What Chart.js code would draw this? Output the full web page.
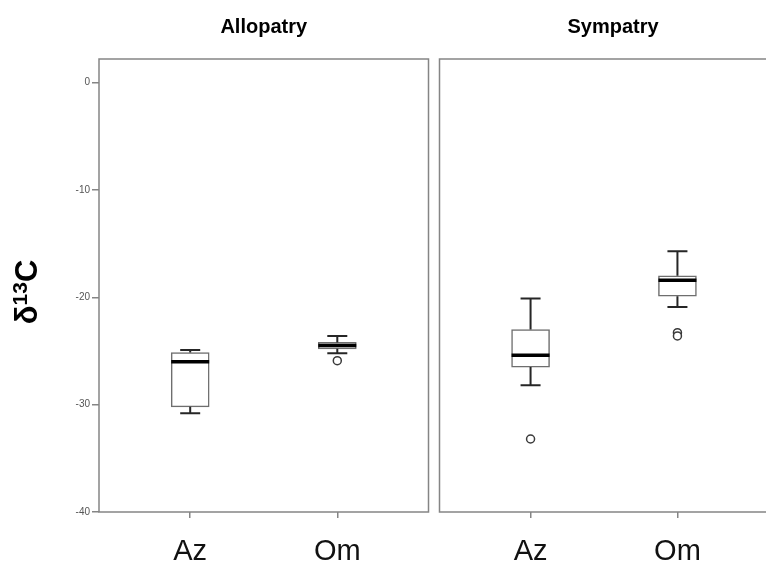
<!DOCTYPE html>
<html>
<head>
<meta charset="utf-8">
<script src="https://cdn.jsdelivr.net/npm/chart.js@4.4.1/dist/chart.umd.min.js"></script>
<style>
  html, body { margin: 0; padding: 0; background: #fff; width: 766px; height: 564px; overflow: hidden; }
  #wrap { position: relative; width: 766px; height: 564px; overflow: hidden; }
  .panel { position: absolute; top: 0; }
</style>
</head>
<body>
<div id="wrap">
  <div class="panel" style="left:0px"><canvas id="c1" width="434" height="564"></canvas></div>
  <div class="panel" style="left:434px"><canvas id="c2" width="340" height="564"></canvas></div>
</div>
<script>
// ---- data ----
const categories = ['Az', 'Om'];
const panelTitles = ['Allopatry', 'Sympatry'];
const yTicks = [-40, -30, -20, -10, 0];
const yTitleParts = ['δ', '13', 'C'];

// Allopatry
const alloWhiskerLow  = [-30.8, -25.2];
const alloQ1          = [-30.2, -24.8];
const alloMedian      = [-26.0, -24.5];
const alloQ3          = [-25.15, -24.2];
const alloWhiskerHigh = [-24.9, -23.6];
const alloOutliers    = [[], [-25.9]];

// Sympatry
const symWhiskerLow  = [-28.2, -20.9];
const symQ1          = [-26.5, -19.9];
const symMedian      = [-25.4, -18.4];
const symQ3          = [-23.0, -18.0];
const symWhiskerHigh = [-20.1, -15.7];
const symOutliers    = [[-33.2], [-23.3, -23.6]];

const Y_MIN = -40, Y_MAX = 2.2;
const X_MIN = -0.62, X_MAX = 1.62;

const FRAME = '#858585';
const FONT = 'Liberation Sans, Arial, sans-serif';

const framePlugin = {
  id: 'frame',
  beforeDatasetsDraw(chart) {
    const a = chart.chartArea, ctx = chart.ctx;
    ctx.save();
    ctx.strokeStyle = FRAME;
    ctx.lineWidth = 1.5;
    ctx.strokeRect(a.left, a.top, a.right - a.left, a.bottom - a.top);
    ctx.restore();
  }
};

const textPlugin = {
  id: 'texts',
  afterDraw(chart, args, opts) {
    const ctx = chart.ctx, a = chart.chartArea;
    ctx.save();
    ctx.fillStyle = '#000';
    ctx.font = 'bold 20px ' + FONT;
    ctx.textAlign = 'center';
    ctx.textBaseline = 'alphabetic';
    ctx.fillText(opts.title, (a.left + a.right) / 2 + opts.titleShift, 33);
    if (opts.yTitle) {
      ctx.translate(opts.yTitleX, opts.yTitleY);
      ctx.rotate(-Math.PI / 2);
      const big = 'bold 31px ' + FONT, small = 'bold 21px ' + FONT;
      ctx.font = big; const w0 = ctx.measureText(yTitleParts[0]).width;
      ctx.font = small; const w1 = ctx.measureText(yTitleParts[1]).width;
      ctx.font = big; const w2 = ctx.measureText(yTitleParts[2]).width;
      let x = -(w0 + w1 + w2) / 2;
      ctx.textAlign = 'left';
      ctx.textBaseline = 'middle';
      ctx.font = big; ctx.fillText(yTitleParts[0], x, 0); x += w0;
      ctx.font = small; ctx.fillText(yTitleParts[1], x, -7); x += w1;
      ctx.font = big; ctx.fillText(yTitleParts[2], x, 0);
    }
    ctx.restore();
  }
};

const whiskerPlugin = {
  id: 'whiskers',
  afterDatasetsDraw(chart, args, opts) {
    const ctx = chart.ctx, xs = chart.scales.x, ys = chart.scales.y;
    const s = opts.stats;
    ctx.save();
    for (let i = 0; i < categories.length; i++) {
      const cx = xs.getPixelForValue(i);
      const half = 19, cap = 10;
      const yl = ys.getPixelForValue(s.low[i]);
      const y1 = ys.getPixelForValue(s.q1[i]);
      const ym = ys.getPixelForValue(s.med[i]);
      const y3 = ys.getPixelForValue(s.q3[i]);
      const yh = ys.getPixelForValue(s.high[i]);
      ctx.strokeStyle = '#262626';
      ctx.lineWidth = 2;
      ctx.beginPath();
      ctx.moveTo(cx, y1); ctx.lineTo(cx, yl);
      ctx.moveTo(cx - cap, yl); ctx.lineTo(cx + cap, yl);
      ctx.moveTo(cx, y3); ctx.lineTo(cx, yh);
      ctx.moveTo(cx - cap, yh); ctx.lineTo(cx + cap, yh);
      ctx.stroke();
      ctx.strokeStyle = '#000';
      ctx.lineWidth = 3.5;
      ctx.beginPath();
      ctx.moveTo(cx - half, ym); ctx.lineTo(cx + half, ym);
      ctx.stroke();
    }
    ctx.restore();
  }
};

function makeChart(id, idx, q1, q3, med, low, high, outl) {
  const first = idx === 0;
  const boxData = categories.map((c, i) => ({ x: i, y: [q1[i], q3[i]] }));
  const outData = [];
  outl.forEach((arr, i) => arr.forEach(v => outData.push({ x: i, y: v })));
  return new Chart(document.getElementById(id), {
    type: 'bar',
    data: {
      datasets: [
        {
          type: 'bar',
          data: boxData,
          backgroundColor: '#ffffff',
          borderColor: '#6e6e6e',
          borderWidth: 1.5,
          borderSkipped: false,
          barThickness: 38,
          order: 2
        },
        {
          type: 'scatter',
          data: outData,
          pointStyle: 'circle',
          pointRadius: 4,
          pointBackgroundColor: '#ffffff',
          pointBorderColor: '#3a3a3a',
          pointBorderWidth: 1.5,
          order: 1
        }
      ]
    },
    options: {
      responsive: false,
      animation: false,
      layout: { padding: first ? { left: 0, right: 4, top: 59, bottom: 0 } : { left: 4, right: 5, top: 59, bottom: 0 } },
      plugins: {
        legend: { display: false },
        tooltip: { enabled: false },
        title: { display: false },
        texts: {
          title: panelTitles[idx],
          titleShift: first ? 0 : 9,
          yTitle: first,
          yTitleX: 28,
          yTitleY: 292
        },
        whiskers: { stats: { low, q1, med, q3, high } }
      },
      scales: {
        x: {
          type: 'linear',
          offset: false,
          min: X_MIN, max: X_MAX,
          afterBuildTicks: s => { s.ticks = categories.map((c, i) => ({ value: i })); },
          afterFit: s => { s.height = 52; },
          border: { display: false },
          grid: { display: true, offset: false, drawOnChartArea: false, drawTicks: true, tickLength: 6, color: FRAME, lineWidth: 1.5 },
          ticks: {
            callback: v => categories[v],
            color: '#111',
            padding: 17,
            maxRotation: 0,
            autoSkip: false,
            font: { family: FONT, size: 29 }
          }
        },
        y: {
          type: 'linear',
          min: Y_MIN, max: Y_MAX,
          display: first,
          afterBuildTicks: s => { s.ticks = yTicks.map(v => ({ value: v })); },
          afterFit: s => { if (first) s.width = 99; },
          border: { display: false },
          grid: { display: true, drawOnChartArea: false, drawTicks: true, tickLength: 7, color: FRAME, lineWidth: 1.5 },
          ticks: {
            color: '#555',
            padding: 2,
            font: { family: FONT, size: 10 }
          },
          title: { display: false }
        }
      }
    },
    plugins: [framePlugin, whiskerPlugin, textPlugin]
  });
}

makeChart('c1', 0, alloQ1, alloQ3, alloMedian, alloWhiskerLow, alloWhiskerHigh, alloOutliers);
makeChart('c2', 1, symQ1, symQ3, symMedian, symWhiskerLow, symWhiskerHigh, symOutliers);
</script>
</body>
</html>
